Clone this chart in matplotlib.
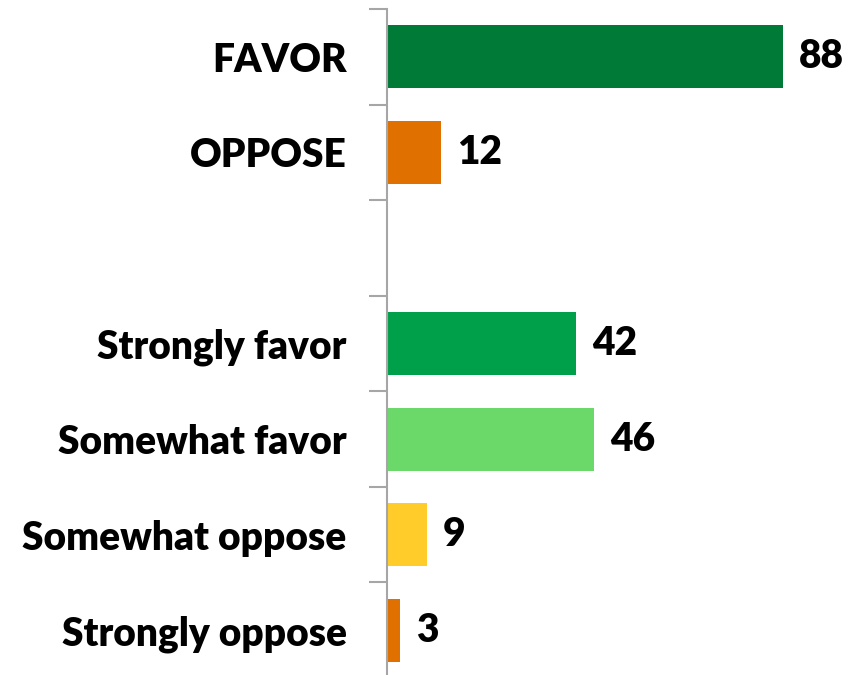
import matplotlib
matplotlib.use("Agg")
import matplotlib.pyplot as plt

categories = ["FAVOR", "OPPOSE", "", "Strongly favor", "Somewhat favor", "Somewhat oppose", "Strongly oppose"]
values = [88, 12, None, 42, 46, 9, 3]
colors = ["#007A37", "#E07000", "#FFFFFF", "#00A04A", "#6AD96A", "#FFCC29", "#E07000"]

plt.rcParams['font.family'] = ['Lato', 'DejaVu Sans']

fig = plt.figure(figsize=(8.54, 6.75), dpi=100)
ax = fig.add_axes([387/854, -3/675, 450/854, 669/675])

ypos = list(range(len(categories)))
for y, v, c in zip(ypos, values, colors):
    if v is None:
        continue
    ax.barh(y, v, height=0.66, color=c, left=0)
    ax.text(v + 3.5, y, str(v), va='center', ha='left', fontsize=28, fontweight='heavy', color='black')

ax.set_ylim(len(categories) - 0.5, -0.5)
ax.set_xlim(0, 100)
ax.set_yticks([i - 0.5 for i in range(len(categories) + 1)])
ax.set_yticklabels([])
ax.set_yticks(ypos, minor=True)
ax.set_yticklabels(categories, minor=True, fontsize=28, fontweight='heavy')
ax.tick_params(axis='y', which='major', length=13, width=1.5, color='#A6A6A6', direction='out')
ax.tick_params(axis='y', which='minor', length=0, pad=29)
ax.set_xticks([])
for s in ['top', 'right', 'bottom']:
    ax.spines[s].set_visible(False)
ax.spines['left'].set_color('#A6A6A6')
ax.spines['left'].set_linewidth(1.5)

fig.savefig("out.png", dpi=100)
